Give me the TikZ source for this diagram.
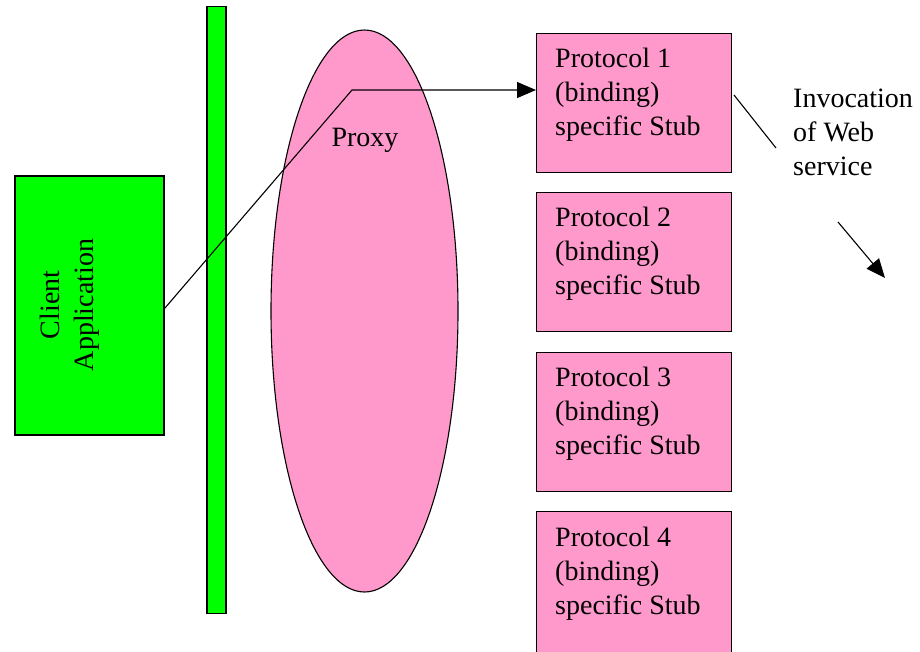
\documentclass[tikz,border=0pt]{standalone}
\usepackage{fontspec}
\setmainfont{Liberation Serif}
\usetikzlibrary{arrows.meta,shapes.geometric,calc}
\definecolor{appgreen}{HTML}{00FF00}
\definecolor{stubpink}{HTML}{FF99CC}
\begin{document}
\begin{tikzpicture}[x=1pt,y=-1pt,
  every node/.style={font=\fontsize{28}{34}\selectfont},
  outline/.style={draw=black,line width=1.1pt},
  stubbox/.style={outline,fill=stubpink,minimum width=195pt,minimum height=139pt,inner sep=0pt,anchor=north west},
  stubtext/.style={align=left,anchor=north west,inner sep=0pt},
  link/.style={line width=1.1pt},
  tip/.style={-{Triangle[length=19pt,width=16pt]}}]
\clip (0,0) rectangle (920,651);
\fill[white] (0,0) rectangle (920,651);

% client application and the green separator bar
\node[outline,fill=appgreen,minimum width=149pt,minimum height=259pt,inner sep=0pt] (client) at (89.5,305.5) {};
\node[rotate=90,align=center,inner sep=0pt] (clientlbl) at (70,305) {Client\\Application};
\node[outline,fill=appgreen,minimum width=19pt,minimum height=607pt,inner sep=0pt] (bar) at (216.5,310) {};

% proxy ellipse
\node[outline,fill=stubpink,ellipse,minimum width=187pt,minimum height=562pt,inner sep=0pt] (proxy) at (364.5,311) {};
\node (proxylbl) at (365,140) {Proxy};

% protocol specific stubs (the last one runs past the lower edge)
\node[stubbox] (p1) at (536,33) {};
\node[stubbox] (p2) at (536,192) {};
\node[stubbox] (p3) at (536,351.5) {};
\node[stubbox,minimum height=160pt] (p4) at (536,511) {};
\node[stubtext] (t1) at (555,48) {Protocol 1\\(binding)\\specific Stub};
\node[stubtext] (t2) at (555,207) {Protocol 2\\(binding)\\specific Stub};
\node[stubtext] (t3) at (555,367) {Protocol 3\\(binding)\\specific Stub};
\node[stubtext] (t4) at (555,527) {Protocol 4\\(binding)\\specific Stub};

% invocation annotation
\node[stubtext] (inv) at (793,89) {Invocation\\of Web\\service};
\coordinate (invA) at (734,95);
\coordinate (invB) at (776,148);
\coordinate (outA) at (838,222);
\coordinate (outB) at (885,278);

% connectors
\coordinate (bend) at (352,90);
\draw[link,tip] ($(client.east)+(0,3)$) -- (bend) -- (p1.west |- bend);
\draw[link] (invA) -- (invB);
\draw[link,tip] (outA) -- (outB);
\end{tikzpicture}
\end{document}
